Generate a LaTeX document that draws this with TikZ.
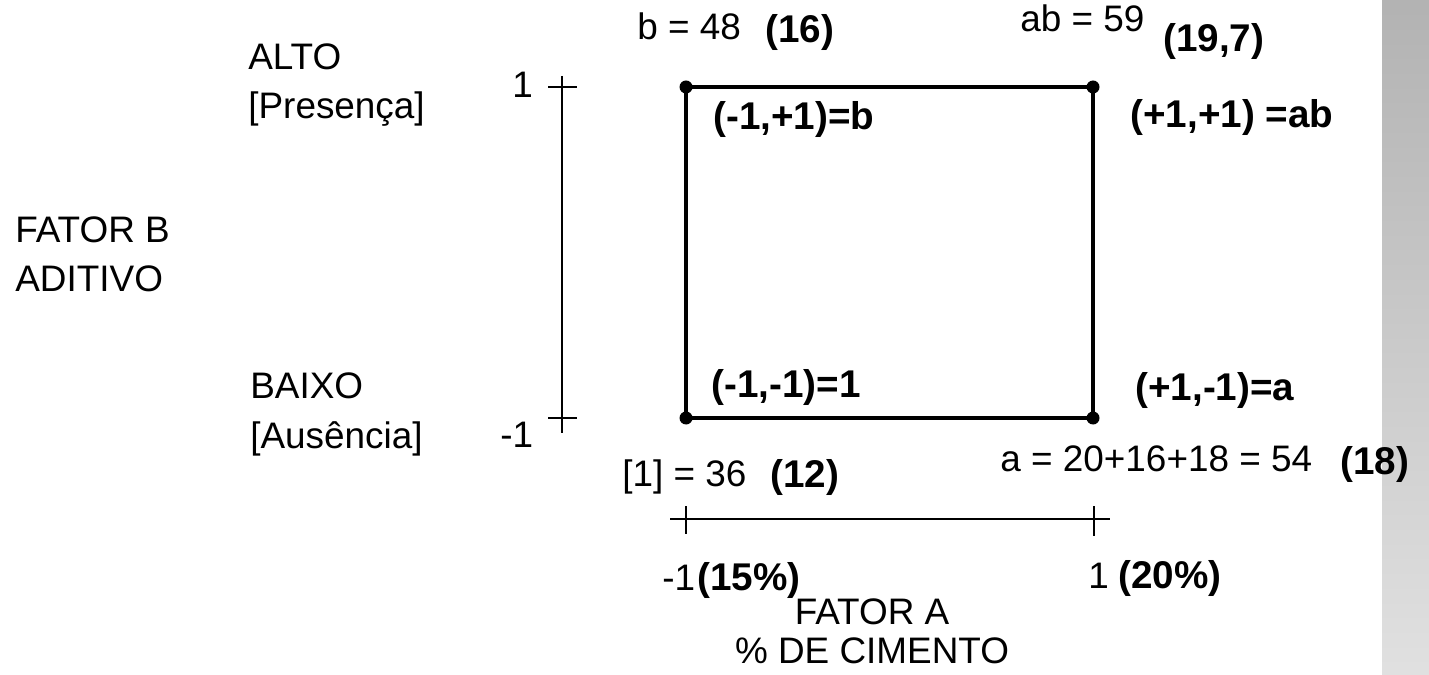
\documentclass[tikz,border=0pt]{standalone}
\usepackage{fontspec}
\setmainfont{Liberation Sans}

\begin{document}
\begin{tikzpicture}[x=0.02cm, y=-0.02cm,
  pix/.style={font=\fontsize{21}{28}\selectfont, inner sep=0pt, align=left},
  val/.style={font=\fontsize{22}{26}\selectfont\bfseries, inner sep=0pt},
  dot/.style={circle, fill=black, minimum size=7.4pt, inner sep=0pt},
  side/.style={line width=2.7pt},
  axis/.style={line width=1.1pt}
]
\useasboundingbox (0,0) rectangle (1429,675);
\shade[top color=black!30, bottom color=black!12] (1382,0) rectangle (1429,675);

% square of the four runs
\coordinate (c1) at (686,418);
\coordinate (ca) at (1093,418);
\coordinate (cab) at (1093,87);
\coordinate (cb) at (686,87);
\draw[side] (c1) -- (ca) -- (cab) -- (cb) -- cycle;
\foreach \c in {c1,ca,cab,cb} \node[dot] at (\c) {};

% factor B axis
\coordinate (bt) at (562,76);
\coordinate (bb) at (562,433);
\draw[axis] (bt) -- (bb);
\draw[axis] (562,87) ++(-14,0) -- ++(29,0);
\draw[axis] (562,418) ++(-14,0) -- ++(29,0);
\node[pix, anchor=base west] (bhi) at (512,98) {1};
\node[pix, anchor=base west] (blo) at (500,447) {-1};

% factor A axis
\coordinate (al) at (670,519);
\coordinate (ar) at (1110,519);
\draw[axis] (al) -- (ar);
\draw[axis] (686,506) -- ++(0,28);
\draw[axis] (1094,506) -- ++(0,30);

% factor labels (base = last line)
\node[pix, anchor=base west] (fb) at (15,292) {FATOR B\\ADITIVO};
\node[pix, anchor=base west] (alto) at (248,119) {ALTO\\{[}Presença{]}};
\node[pix, anchor=base west] (baixo) at (250,448) {BAIXO\\{[}Ausência{]}};
\node[pix, align=center, anchor=base, font=\fontsize{21}{22}\selectfont] (fa) at (872,663) {FATOR A\\\% DE CIMENTO};

% corner labels
\node[val, anchor=base west] (lb) at (713,130) {(-1,+1)=b};
\node[val, anchor=base west] (lab) at (1130,128) {(+1,+1) =ab};
\node[val, anchor=base west] (l1) at (711,397) {(-1,-1)=1};
\node[val, anchor=base west] (la) at (1135,400) {(+1,-1)=a};

% totals
\node[pix, anchor=base west] (tb) at (637,40) {b = 48};
\node[val, anchor=base west] (mb) at (765,43) {(16)};
\node[pix, anchor=base west] (tab) at (1020,32) {ab = 59};
\node[val, anchor=base west] (mab) at (1163,52) {(19,7)};
\node[pix, anchor=base west] (t1) at (622,486) {{[}1{]} = 36};
\node[val, anchor=base west] (m1) at (770,487) {(12)};
\node[pix, anchor=base west] (ta) at (1000,471) {a = 20+16+18 = 54};
\node[val, anchor=base west] (ma) at (1340,474) {(18)};

% levels of A
\node[pix, anchor=base west] (alo) at (662,590) {-1};
\node[val, anchor=base west] (plo) at (697,590) {(15\%)};
\node[pix, anchor=base west] (ahi) at (1088,588) {1};
\node[val, anchor=base west] (phi) at (1118,588) {(20\%)};
\end{tikzpicture}
\end{document}
